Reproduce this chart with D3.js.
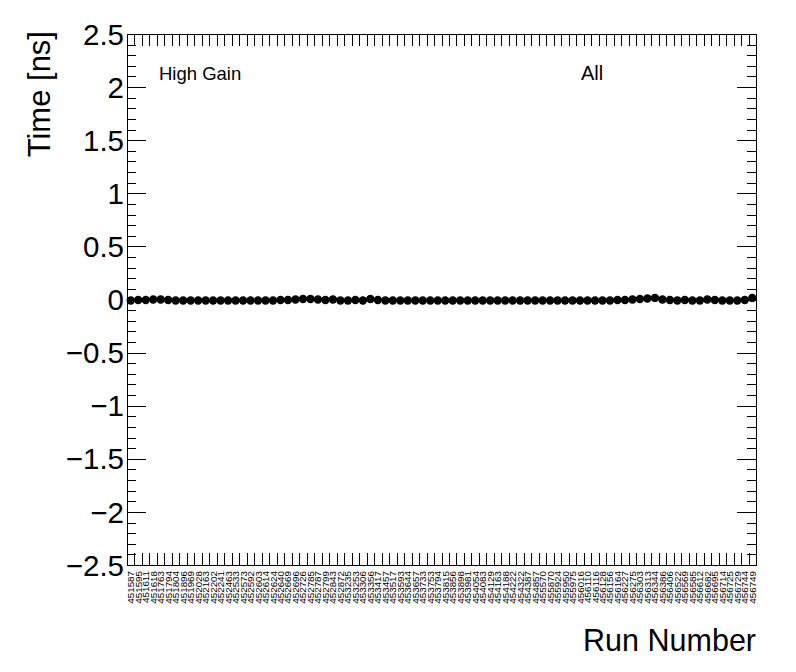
<!DOCTYPE html>
<html>
<head>
<meta charset="utf-8">
<script src="https://cdn.jsdelivr.net/npm/d3@7"></script>
<style>
  body { margin: 0; background: #fff; }
  svg { font-family: "Liberation Sans", Arial, Helvetica, sans-serif; }
</style>
</head>
<body>
<svg id="chart"></svg>
<script>
// run numbers on the x axis (one bin each)
var runs = [
  "451587", "451595", "451611", "451618", "451763", "451794", "451804", "451896",
  "451969", "452028", "452163", "452202", "452241", "452463", "452533", "452573",
  "452592", "452603", "452614", "452624", "452640", "452669", "452696", "452726",
  "452785", "452787", "452799", "452843", "452872", "453235", "453253", "453306",
  "453356", "453417", "453457", "453517", "453593", "453644", "453657", "453733",
  "453753", "453794", "453815", "453856", "453898", "453981", "454054", "454083",
  "454129", "454163", "454188", "454222", "454322", "454387", "454857", "455570",
  "455870", "455924", "455950", "455975", "456016", "456110", "456116", "456128",
  "456156", "456164", "456227", "456275", "456303", "456313", "456344", "456386",
  "456406", "456522", "456569", "456585", "456612", "456682", "456695", "456714",
  "456725", "456729", "456744", "456749"
];

// mean time per run [ns]
var timeValues = [
  -0.010, -0.005, -0.005, 0.000, 0.000, -0.005, -0.010, -0.010,
  -0.010, -0.010, -0.010, -0.010, -0.010, -0.010, -0.010, -0.010,
  -0.010, -0.010, -0.010, -0.010, -0.005, -0.005, 0.000, 0.005,
  0.005, 0.000, -0.005, 0.000, -0.010, -0.010, -0.005, -0.010,
  0.005, -0.005, -0.010, -0.010, -0.010, -0.010, -0.010, -0.010,
  -0.010, -0.010, -0.010, -0.010, -0.010, -0.010, -0.010, -0.010,
  -0.010, -0.010, -0.010, -0.010, -0.010, -0.010, -0.010, -0.010,
  -0.010, -0.010, -0.010, -0.010, -0.010, -0.010, -0.010, -0.010,
  -0.010, -0.005, -0.005, 0.000, 0.005, 0.010, 0.015, 0.000,
  -0.005, -0.010, -0.005, -0.010, -0.010, 0.000, -0.005, -0.010,
  -0.010, -0.010, -0.005, 0.015
];

var yDomain = [-2.5, 2.5];
var yMajorTicks = [-2.5, -2, -1.5, -1, -0.5, 0, 0.5, 1, 1.5, 2, 2.5];
var yTitle = "Time [ns]";
var xTitle = "Run Number";
var gainLabel = "High Gain";
var groupLabel = "All";

var svgWidth = 796;
var svgHeight = 672;
var plotLeft = 127, plotRight = 756, plotTop = 34, plotBottom = 565;

var svg = d3.select("#chart").attr("width", svgWidth).attr("height", svgHeight);

var x = d3.scaleBand().domain(runs).range([plotLeft, plotRight]).paddingInner(0).paddingOuter(0);
var y = d3.scaleLinear().domain(yDomain).range([plotBottom, plotTop]);

// frame
svg.append("rect")
  .attr("x", plotLeft + 0.5).attr("y", plotTop + 0.5)
  .attr("width", plotRight - plotLeft).attr("height", plotBottom - plotTop)
  .attr("fill", "none").attr("stroke", "#000").attr("stroke-width", 1);

// y ticks, major + minor, on both sides
var yMinor = d3.range(-25, 26).map(function (d) { return d / 10; });
var tickG = svg.append("g").attr("stroke", "#000").attr("stroke-width", 1);
yMinor.forEach(function (v) {
  var isMajor = Math.abs(v * 2 - Math.round(v * 2)) < 1e-6;
  var len = isMajor ? 19 : 9;
  var yy = Math.round(y(v)) + 0.5;
  tickG.append("line").attr("x1", plotLeft).attr("x2", plotLeft + len).attr("y1", yy).attr("y2", yy);
  tickG.append("line").attr("x1", plotRight - len).attr("x2", plotRight).attr("y1", yy).attr("y2", yy);
});

// x ticks at bin edges, bottom and top
runs.slice(1).forEach(function (r) {
  var xx = Math.round(x(r)) + 0.5;
  tickG.append("line").attr("x1", xx).attr("x2", xx).attr("y1", plotBottom).attr("y2", plotBottom - 12);
  tickG.append("line").attr("x1", xx).attr("x2", xx).attr("y1", plotTop).attr("y2", plotTop + 12);
});

// y tick labels
var fmt = d3.format("");
svg.append("g").selectAll("text")
  .data(yMajorTicks)
  .enter().append("text")
  .attr("x", plotLeft - 3)
  .attr("y", function (d) { return y(d); })
  .attr("dy", "0.36em")
  .attr("text-anchor", "end")
  .attr("font-size", 29.5)
  .text(function (d) { return fmt(d); });

// x tick labels, rotated
svg.append("g").selectAll("text")
  .data(runs)
  .enter().append("text")
  .attr("transform", function (d) {
    return "translate(" + (x(d) + x.bandwidth() / 2 + 3.5) + "," + (plotBottom + 6) + ") rotate(-90)";
  })
  .attr("text-anchor", "end")
  .attr("font-size", 9.8)
  .text(function (d) { return d; });

// data points
svg.append("g").selectAll("circle")
  .data(timeValues)
  .enter().append("circle")
  .attr("cx", function (d, i) { return x(runs[i]) + x.bandwidth() / 2; })
  .attr("cy", function (d) { return y(d); })
  .attr("r", 4.2)
  .attr("fill", "#000");

// axis titles
svg.append("text")
  .attr("transform", "translate(50," + (plotTop - 3) + ") rotate(-90)")
  .attr("text-anchor", "end")
  .attr("font-size", 31)
  .text(yTitle);

svg.append("text")
  .attr("x", plotRight).attr("y", 651)
  .attr("text-anchor", "end")
  .attr("font-size", 30.5)
  .text(xTitle);

// annotations
svg.append("text")
  .attr("x", 159).attr("y", 80)
  .attr("font-size", 18.5)
  .text(gainLabel);

svg.append("text")
  .attr("x", 581).attr("y", 80)
  .attr("font-size", 20)
  .text(groupLabel);
</script>
</body>
</html>
